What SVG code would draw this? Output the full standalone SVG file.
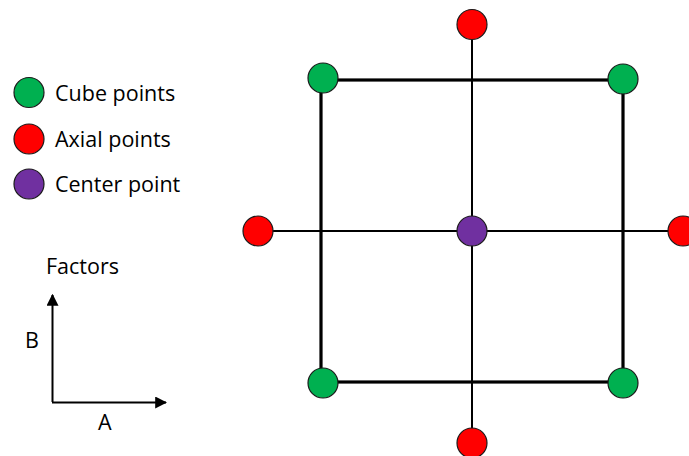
<svg xmlns="http://www.w3.org/2000/svg" width="689" height="456" viewBox="0 0 689 456">
<style>
.pt{stroke:#1a1a1a;stroke-width:1.2}
.cube{fill:#00b050}
.axial{fill:#ff0000}
.center{fill:#7030a0}
.thin{stroke:#000;stroke-width:2;fill:none}
.thick{stroke:#000;stroke-width:3.2;fill:none}
text{font-family:"Open Sans","Liberation Sans",sans-serif;font-size:21.5px;fill:#000}
</style>
<defs>
<marker id="arr" viewBox="0 0 10 10" refX="9" refY="5" markerWidth="6" markerHeight="6" orient="auto" markerUnits="strokeWidth">
<path d="M0,0 L10,5 L0,10 z" fill="#000"/>
</marker>
</defs>
<g id="connectors">
<line class="thin" x1="472" y1="24" x2="472" y2="443"/>
<line class="thin" x1="258" y1="231" x2="689" y2="231"/>
<rect class="thick" x="321" y="80" width="302" height="302"/>
<line class="thin" x1="52.5" y1="402" x2="52.5" y2="295" marker-end="url(#arr)"/>
<line class="thin" x1="52" y1="402.5" x2="166" y2="402.5" marker-end="url(#arr)"/>
</g>
<g id="cube-tl"><circle class="pt cube" cx="323" cy="78" r="15"/></g>
<g id="cube-tr"><circle class="pt cube" cx="623" cy="79" r="15"/></g>
<g id="cube-bl"><circle class="pt cube" cx="323" cy="383" r="15"/></g>
<g id="cube-br"><circle class="pt cube" cx="623" cy="383" r="15"/></g>
<g id="axial-top"><circle class="pt axial" cx="472" cy="24.5" r="15"/></g>
<g id="axial-bottom"><circle class="pt axial" cx="472" cy="443" r="15"/></g>
<g id="axial-left"><circle class="pt axial" cx="258" cy="231" r="15"/></g>
<g id="axial-right"><circle class="pt axial" cx="683" cy="231" r="15"/></g>
<g id="center"><circle class="pt center" cx="472" cy="231" r="15"/></g>
<g id="legend">
<circle class="pt cube" cx="29" cy="92.5" r="15"/>
<text x="55" y="101">Cube points</text>
<circle class="pt axial" cx="29" cy="139" r="15"/>
<text x="55" y="147">Axial points</text>
<circle class="pt center" cx="29" cy="184" r="15"/>
<text x="55" y="192">Center point</text>
</g>
<g id="factors">
<text x="46" y="274">Factors</text>
<text x="25" y="348">B</text>
<text x="98" y="430">A</text>
</g>
</svg>
